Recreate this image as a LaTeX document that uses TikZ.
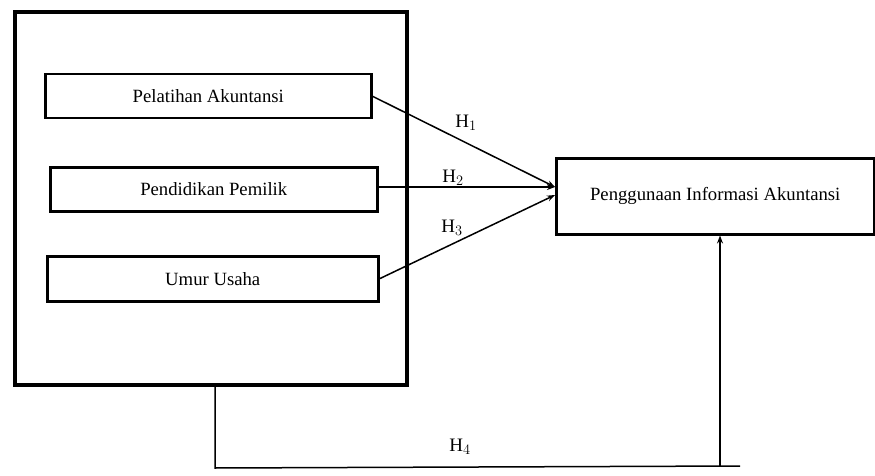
\documentclass[tikz,border=0pt]{standalone}
\usepackage{fontspec}
\setmainfont{Liberation Serif}
\usetikzlibrary{arrows.meta}
\begin{document}
\begin{tikzpicture}[x=1pt,y=-1pt,
  box/.style={draw,line width=2.5pt,inner sep=0pt},
  outer/.style={draw,line width=4pt},
  arr/.style={line width=1.5pt,-{Stealth[length=8pt,width=6pt]}},
  lbl/.style={font=\fontsize{19}{22}\selectfont},
  txt/.style={font=\fontsize{18.7}{22}\selectfont}]
\useasboundingbox (0,0) rectangle (875,476);
\node[outer,minimum width=392pt,minimum height=373pt,anchor=north west] (outer) at (13,10) {};
\node[box,minimum width=326pt,minimum height=44pt,anchor=north west,txt] (a) at (44,73) {Pelatihan Akuntansi};
\node[box,minimum width=327pt,minimum height=44pt,anchor=north west,txt] (b) at (49,166) {Pendidikan Pemilik};
\node[box,minimum width=331pt,minimum height=45pt,anchor=north west,txt] (c) at (46,255) {Umur Usaha};
\node[box,minimum width=318pt,minimum height=76pt,anchor=north west,txt] (y) at (555,157) {Penggunaan Informasi Akuntansi};
\coordinate (t1) at (555,187);
\coordinate (t3) at (555,195);
\coordinate (p1) at (215,468);
\coordinate (p2) at (720,466);
\coordinate (p3) at (740,466);
\draw[arr] (a.east) -- (t1);
\draw[arr] (b.east |- t1) -- (t1);
\draw[arr] (c.east) -- (t3);
\draw[line width=1.5pt] (outer.south -| p1) -- (p1) -- (p3);
\draw[arr] (p2) -- (p2 |- y.south);
\node[lbl] (h1) at (466,123) {H$_1$};
\node[lbl] (h2) at (453,178) {H$_2$};
\node[lbl] (h3) at (452,228) {H$_3$};
\node[lbl] (h4) at (460,447) {H$_4$};
\end{tikzpicture}
\end{document}
